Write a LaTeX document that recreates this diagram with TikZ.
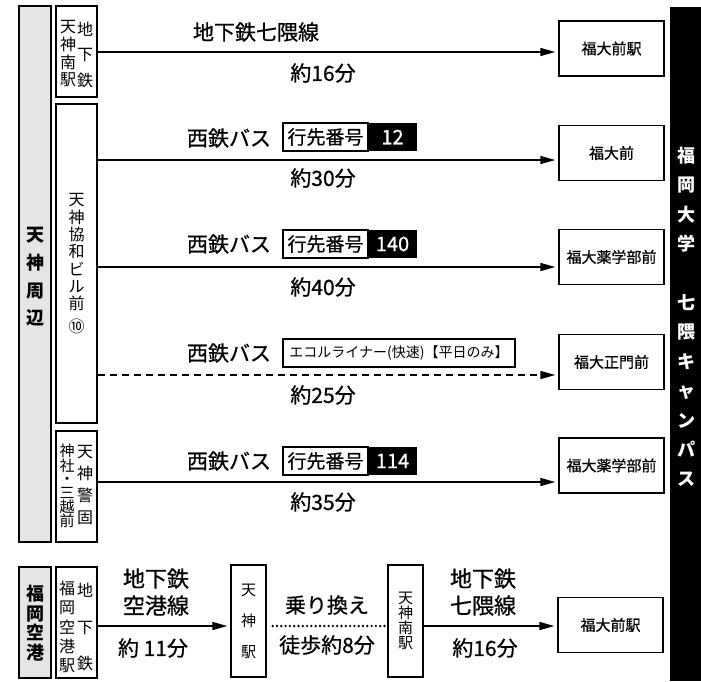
\documentclass[tikz,border=0pt]{standalone}
\usepackage{fontspec}
\setmainfont{Noto Sans CJK JP}
\newfontfamily\med{Noto Sans CJK JP}[FakeBold=0.7]
\usetikzlibrary{arrows.meta}

\begin{document}
\begin{tikzpicture}[x=1pt,y=-1pt,
  box/.style={draw,line width=1.4pt,inner sep=0pt},
  dest/.style={box,minimum width=105pt,minimum height=55pt,font=\med\fontsize{15}{15}\selectfont},
  stop/.style={box,minimum width=41pt},
  route/.style={line width=1.6pt,-{Triangle[length=15pt,width=8pt]},shorten >=3pt},
  lbl/.style={font=\med\fontsize{21}{21}\selectfont,inner sep=0pt},
  tate/.style={align=center,inner sep=0pt}]

\useasboundingbox (0,0) rectangle (701,681);

% left column: Tenjin area
\node[box,fill=gray!20,minimum width=32pt,minimum height=536pt] (area) at (35,274) {};
\node[tate,font=\fontsize{18}{27.7}\bfseries] (areatext) at (35,277) {天\\神\\周\\辺};

\node[stop,minimum height=91pt] (minami) at (76.5,51.5) {};
\node[tate,font=\fontsize{16}{17.7}\selectfont] (minamiA) at (68,54) {天\\神\\南\\駅};
\node[tate,font=\fontsize{16}{25.5}\selectfont] (minamiB) at (85,54.5) {地\\下\\鉄};

\node[stop,minimum height=319pt] (kyowa) at (76.5,263.5) {};
\node[tate,font=\fontsize{16}{17.3}\selectfont] (kyowatext) at (76.5,264) {天\\神\\協\\和\\ビ\\ル\\前\\[6pt]⑩};

\node[stop,minimum height=111pt] (kego) at (76.5,486.5) {};
\node[tate,font=\fontsize{16}{22}\selectfont] (kegoA) at (85,485) {天\\神\\警\\固};
\node[tate,font=\fontsize{15}{13.6}\selectfont] (kegoB) at (67,486) {神\\社\\・\\三\\越\\前};

% right column: campus
\node[fill=black,minimum width=31pt,minimum height=674pt,inner sep=0pt] (campus) at (685.5,344) {};
\node[tate,text=white,font=\fontsize{18}{29.4}\bfseries] (campustext) at (686,317) {福\\岡\\大\\学\\\mbox{}\\七\\隈\\キ\\ャ\\ン\\パ\\ス};

\node[dest] (dest1) at (611.5,48.5) {福大前駅};
\node[dest] (dest2) at (611.5,153) {福大前};
\node[dest] (dest3) at (611.5,257) {福大薬学部前};
\node[dest] (dest4) at (611.5,362) {福大正門前};
\node[dest] (dest5) at (611.5,465.5) {福大薬学部前};

% routes from Tenjin
\coordinate (row1) at (0,52);
\coordinate (row2) at (0,160);
\coordinate (row3) at (0,267);
\coordinate (row4) at (0,375);
\coordinate (row5) at (0,482);

\draw[route] (minami.east |- row1) -- (dest1.west |- row1);
\draw[route] (kyowa.east |- row2) -- (dest2.west |- row2);
\draw[route] (kyowa.east |- row3) -- (dest3.west |- row3);
\draw[route,dash pattern=on 7pt off 5pt] (kyowa.east |- row4) -- (dest4.west |- row4);
\draw[route] (kego.east |- row5) -- (dest5.west |- row5);

\node[lbl] (line1) at (256,32) {地下鉄七隈線};

\foreach \y/\n in {138/2,244/3,353/4,461/5}
  \node[lbl] (bus\n) at (229,\y) {西鉄バス};

\foreach \y/\t/\n in {73/16/1,178/30/2,287/40/3,395/25/4,502/35/5}
  \node[lbl] (time\n) at (323,\y) {約{\t}分};

\foreach \y/\num/\n in {137/12/2,244/140/3,461/114/5}
{
  \node[box,minimum width=85pt,minimum height=28pt,font=\med\fontsize{19}{19}\selectfont] (tag\n) at (325.5,\y) {行先番号};
  \node[fill=black,text=white,minimum width=49pt,minimum height=28pt,inner sep=0pt,
        font=\med\fontsize{20}{20}\selectfont] (num\n) at (392.5,\y) {\num};
}

\node[box,minimum width=232pt,minimum height=28pt,font=\fontsize{14}{14}\selectfont] (tag4) at (399,353) {エコルライナー(快速)【平日のみ】};

% from the airport
\node[box,fill=gray!20,minimum width=32pt,minimum height=111pt] (airport) at (35,622.5) {};
\node[tate,font=\fontsize{18}{19.7}\bfseries] (airporttext) at (35,623) {福\\岡\\空\\港};

\node[stop,minimum height=111pt] (kuko) at (76.5,622.5) {};
\node[tate,font=\fontsize{16}{19.3}\selectfont] (kukoA) at (67,627) {福\\岡\\空\\港\\駅};
\node[tate,font=\fontsize{16}{36.5}\selectfont] (kukoB) at (85,627) {地\\下\\鉄};

\node[box,minimum width=35pt,minimum height=112pt,tate,font=\fontsize{15}{31}\selectfont] (tenjin) at (248.5,621) {天\\神\\駅};
\node[box,minimum width=35pt,minimum height=112pt,tate,font=\fontsize{15}{15}\selectfont] (tenjinminami) at (405.5,621) {天\\神\\南\\駅};
\node[dest] (dest6) at (610.5,625) {福大前駅};

\coordinate (row6) at (0,626);
\draw[route] (kuko.east |- row6) -- (tenjin.west |- row6);
\draw[line width=2.6pt,line cap=round,dash pattern=on 0pt off 4.3pt,shorten <=6pt,shorten >=2pt]
  (tenjin.east |- row6) -- (tenjinminami.west |- row6);
\draw[route] (tenjinminami.east |- row6) -- (dest6.west |- row6);

\node[lbl,align=center,font=\med\fontsize{22}{27}\selectfont] (kukoline) at (156,592) {地下鉄\\空港線};
\node[lbl] (time6) at (153,648) {約 11分};
\node[lbl] (walk) at (327,605) {乗り換え};
\node[lbl] (time7) at (327,645) {徒歩約8分};
\node[lbl,align=center,font=\med\fontsize{22}{27}\selectfont] (nanaline) at (483,592) {地下鉄\\七隈線};
\node[lbl] (time8) at (485,648) {約16分};

\end{tikzpicture}
\end{document}
